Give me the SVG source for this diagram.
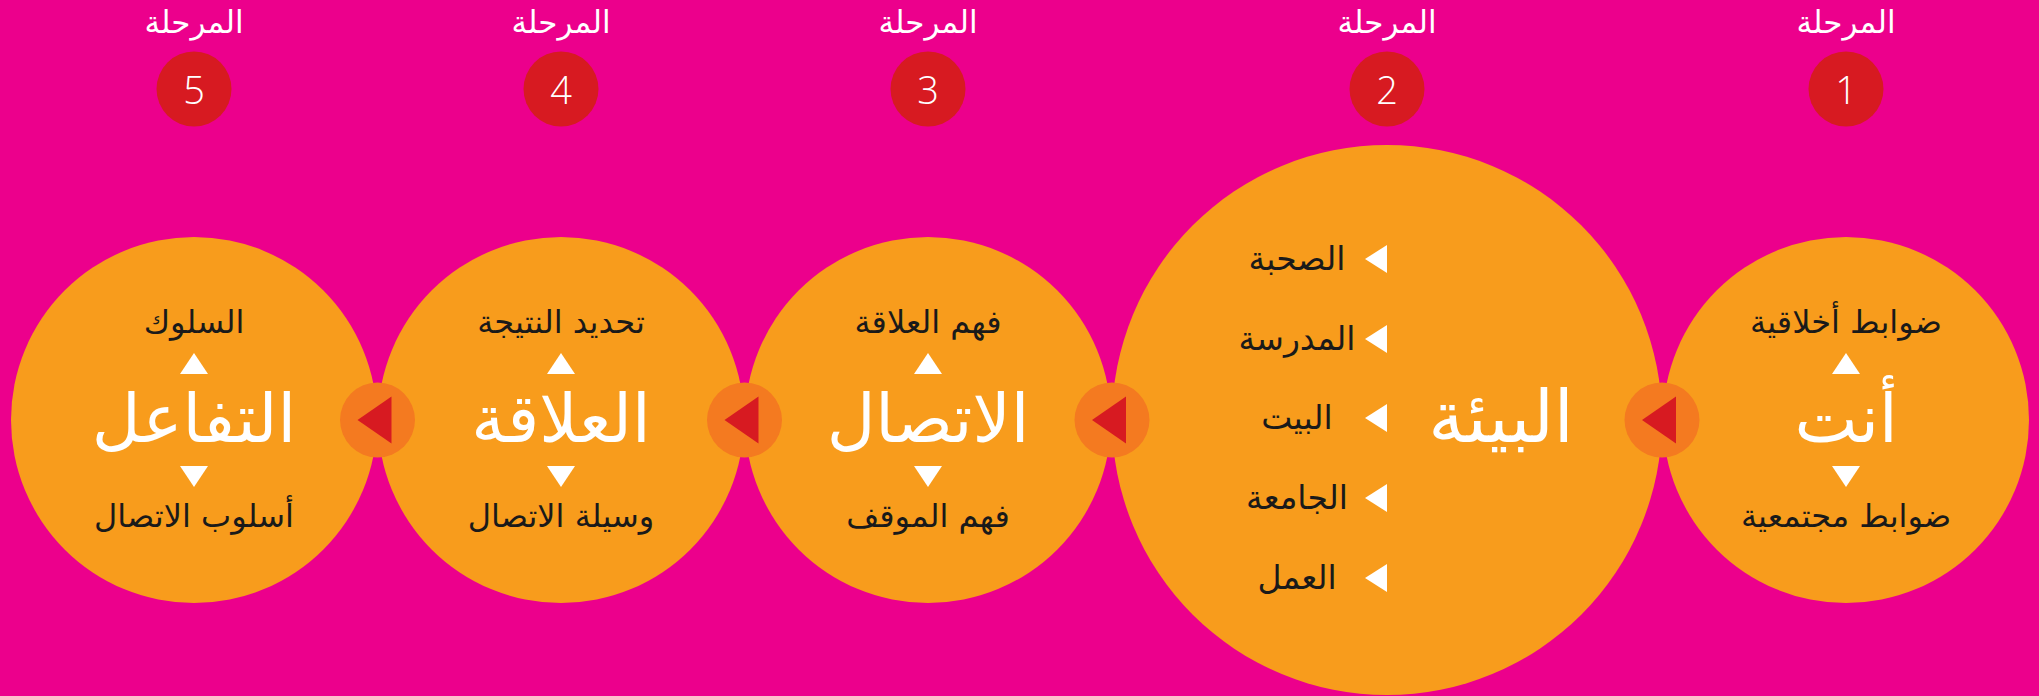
<svg xmlns="http://www.w3.org/2000/svg" width="2039" height="696" viewBox="0 0 2039 696">
<style>
.bg{fill:#EC008C}
.c{fill:#F89C1C}
.num{fill:#D71A21}
.conn{fill:#F47A20}
.tri{fill:#D71A21}
.wt{fill:#FFFFFF}
.ttl{font-family:"DejaVu Sans",sans-serif;font-size:31px;fill:#FFFFFF;text-anchor:middle}
.n{font-family:"Open Sans","Liberation Sans",sans-serif;font-weight:300;font-size:38px;fill:#FFFFFF;text-anchor:middle}
.sub{font-family:"DejaVu Sans",sans-serif;font-size:32px;fill:#1A1A1A;text-anchor:middle}
.bul{font-family:"DejaVu Sans",sans-serif;font-size:33px;fill:#1A1A1A;text-anchor:middle}
.main{font-family:"DejaVu Sans",sans-serif;font-size:67px;fill:#FFFFFF;text-anchor:middle}
</style>
<rect class="bg" x="0" y="0" width="2039" height="696"/>

<g id="node-1">
<text class="ttl" x="1846" y="33">المرحلة</text>
<circle class="num" cx="1846" cy="89" r="37.5"/>
<text class="n" x="1846" y="104">1</text>
<circle class="c" cx="1846" cy="420" r="183"/>
<text class="sub" x="1846" y="333">ضوابط أخلاقية</text>
<polygon class="wt" points="1832,374 1860,374 1846,353"/>
<text class="main" x="1846" y="442">أنت</text>
<polygon class="wt" points="1832,466 1860,466 1846,487"/>
<text class="sub" x="1846" y="527">ضوابط مجتمعية</text>
</g>

<g id="node-2">
<text class="ttl" x="1387" y="33">المرحلة</text>
<circle class="num" cx="1387" cy="89" r="37.5"/>
<text class="n" x="1387" y="104">2</text>
<circle class="c" cx="1387" cy="420" r="275"/>
<text class="main" x="1501" y="442" style="font-size:72px">البيئة</text>
<polygon class="wt" points="1365,259 1387,245 1387,273"/>
<text class="bul" x="1297" y="270">الصحبة</text>
<polygon class="wt" points="1365,339 1387,325 1387,353"/>
<text class="bul" x="1297" y="350">المدرسة</text>
<polygon class="wt" points="1365,418 1387,404 1387,432"/>
<text class="bul" x="1297" y="429">البيت</text>
<polygon class="wt" points="1365,498 1387,484 1387,512"/>
<text class="bul" x="1297" y="509">الجامعة</text>
<polygon class="wt" points="1365,578 1387,564 1387,592"/>
<text class="bul" x="1297" y="589">العمل</text>
</g>

<g id="node-3">
<text class="ttl" x="928" y="33">المرحلة</text>
<circle class="num" cx="928" cy="89" r="37.5"/>
<text class="n" x="928" y="104">3</text>
<circle class="c" cx="928" cy="420" r="183"/>
<text class="sub" x="928" y="333">فهم العلاقة</text>
<polygon class="wt" points="914,374 942,374 928,353"/>
<text class="main" x="928" y="442">الاتصال</text>
<polygon class="wt" points="914,466 942,466 928,487"/>
<text class="sub" x="928" y="527">فهم الموقف</text>
</g>

<g id="node-4">
<text class="ttl" x="561" y="33">المرحلة</text>
<circle class="num" cx="561" cy="89" r="37.5"/>
<text class="n" x="561" y="104">4</text>
<circle class="c" cx="561" cy="420" r="183"/>
<text class="sub" x="561" y="333">تحديد النتيجة</text>
<polygon class="wt" points="547,374 575,374 561,353"/>
<text class="main" x="561" y="442">العلاقة</text>
<polygon class="wt" points="547,466 575,466 561,487"/>
<text class="sub" x="561" y="527">وسيلة الاتصال</text>
</g>

<g id="node-5">
<text class="ttl" x="194" y="33">المرحلة</text>
<circle class="num" cx="194" cy="89" r="37.5"/>
<text class="n" x="194" y="104">5</text>
<circle class="c" cx="194" cy="420" r="183"/>
<text class="sub" x="194" y="333">السلوك</text>
<polygon class="wt" points="180,374 208,374 194,353"/>
<text class="main" x="194" y="442">التفاعل</text>
<polygon class="wt" points="180,466 208,466 194,487"/>
<text class="sub" x="194" y="527">أسلوب الاتصال</text>
</g>

<g id="connectors">
<circle class="conn" cx="1662" cy="420" r="37.5"/>
<polygon class="tri" points="1642,420 1676,396.5 1676,443.5"/>
<circle class="conn" cx="1112" cy="420" r="37.5"/>
<polygon class="tri" points="1092,420 1126,396.5 1126,443.5"/>
<circle class="conn" cx="744.5" cy="420" r="37.5"/>
<polygon class="tri" points="724.5,420 758.5,396.5 758.5,443.5"/>
<circle class="conn" cx="377.5" cy="420" r="37.5"/>
<polygon class="tri" points="357.5,420 391.5,396.5 391.5,443.5"/>
</g>
</svg>
